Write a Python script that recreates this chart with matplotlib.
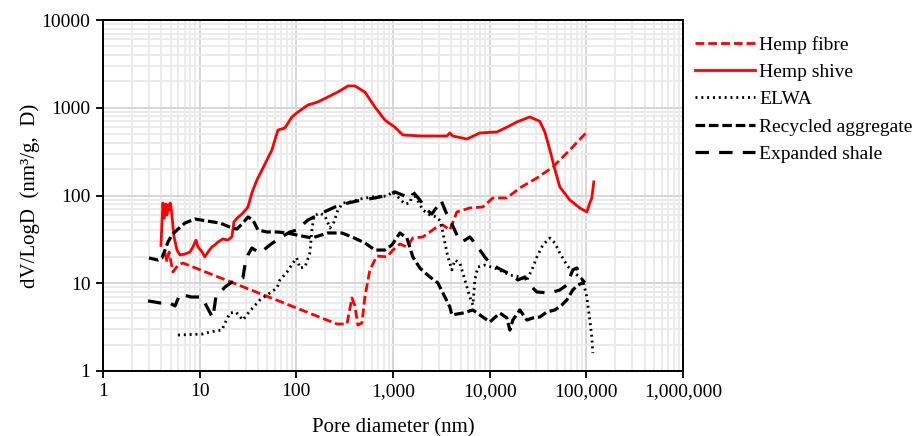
import numpy as np
import matplotlib
matplotlib.use("Agg")
import matplotlib.pyplot as plt
from matplotlib.ticker import FixedLocator, LogLocator, NullFormatter

plt.rcParams['font.family'] = ['Liberation Serif', 'DejaVu Serif']

# pore size distributions, D in nm, dV/logD in mm3/g
hemp_shive_d = [3.98, 4.07, 4.17, 4.3, 4.48, 4.59, 4.7, 4.82, 4.95, 5.05, 5.2, 5.4, 5.82, 6.26,
                7.05, 7.94, 8.53, 9.16, 9.6, 10.6, 11.3, 12.2, 13.4, 14.4, 15.5, 17.4, 19.6, 21.6,
                22.6, 24.3, 28, 31.6, 34.7, 39.1, 44.1, 55.9, 64.5, 76.2, 90, 104, 132, 167, 212,
                269, 342, 404, 512, 650, 824, 1047, 1266, 2037, 3606, 3875, 4160, 5807, 7920,
                11860, 15060, 19100, 26060, 33040, 37240, 41970, 47230, 53200, 67500, 85700,
                101200, 108700, 114000, 119500]
hemp_shive_v = [27, 48, 82, 55, 80, 60, 78, 68, 82, 75, 55, 35, 24, 21,
                21.5, 22.7, 26, 31, 26, 22.7, 20, 22.7, 26, 27.3, 29.5, 32, 31, 34,
                50, 55, 63, 74, 107, 150, 195, 330, 557, 588, 785, 895, 1075, 1164, 1327,
                1512, 1770, 1770, 1510, 1020, 725, 600, 489, 476, 476, 516, 476, 440, 516,
                529, 600, 688, 785, 700, 529, 330, 200, 125, 89, 72,
                65, 82, 94, 143]

hemp_fibre_d = [4.38, 4.59, 4.82, 5.17, 5.29, 5.97, 6.72, 263, 334, 376, 404, 433, 477, 512,
                577, 681, 865, 998, 1178, 1393, 1606, 2037, 2408, 2845, 3281, 3875, 4580,
                6240, 8510, 10790, 15060, 20530, 30760, 45080, 67500, 101200]
hemp_fibre_v = [22.1, 17.5, 22.7, 15.3, 13.4, 16.1, 17.0, 3.43, 3.43, 6.79, 5.5, 3.34, 3.52, 6.97,
                14.2, 20.4, 20, 23.9, 28, 25.9, 32.8, 33.7, 38.4, 43.8, 46.1, 40.4, 64.9,
                72.1, 74, 93.7, 93.7, 122, 158, 211, 330, 529]

elwa_d = [5.97, 10.8, 12.7, 17.0, 18.3, 20.6, 23.7, 28.0, 33.1, 42.0, 53.3, 63.0, 67.6, 80.0,
          92.2, 101, 109, 123, 138, 145, 152, 175, 198, 223, 245, 269, 303, 358, 455, 605,
          865, 998, 1178, 1327, 1496, 1606, 1767, 2037, 2408, 2845, 3129, 3281, 3698, 4066,
          4365, 4920, 5546, 6240, 6700, 7030, 7550, 8910, 11320, 16180, 20530, 24260, 27310,
          30760, 35480, 41970, 47230, 53200, 62810, 72440, 85700, 92000, 101200, 108700,
          114000, 116700]
elwa_v = [2.57, 2.64, 2.78, 2.93, 3.52, 4.58, 4.7, 3.81, 4.83, 6.44, 7.74, 8.83, 10.9, 13.4,
          17.0, 19.4, 14.9, 15.3, 22.1, 40.4, 58.4, 63.2, 58.4, 42.6, 49.9, 68.4, 82.2, 84.3, 91.2, 96.2,
          98.6, 110, 91.2, 80, 82, 107, 91, 68.4, 60, 56.9, 50, 37.4, 19.9, 14.2,
          18.4, 17, 10.9, 6.97, 5.65, 10.9, 15.3, 16.1, 14.9, 12.4, 11.8, 10.9, 14.2,
          19.9, 27.3, 32.8, 28.8, 22.1, 16.1, 13.4, 11.8, 10.9, 6.97, 3.81,
          2.44, 1.60]

recycled_d = [2.99, 3.70, 4.07, 4.38, 4.70, 5.17, 5.82, 7.05, 8.94, 11.9, 16.2, 21.6, 24.3, 28.0,
              31.6, 35.6, 40.1, 49.6, 63.0, 80, 101, 145, 212, 296, 376, 512, 650, 824, 975,
              1178, 1393, 1606, 1898, 2408, 2910, 3443, 3875, 4066, 5284, 6700, 7920, 10050,
              12760, 15060, 16180, 17380, 20530, 24260, 27980, 33040, 39010, 47230, 55830,
              62810, 72440, 81650, 92000]
recycled_v = [19.4, 18.4, 19.4, 23.9, 29.5, 35.5, 40.4, 48.6, 54.0, 51.2, 48.6, 42.6, 41.5, 48.6,
              56.9, 52.6, 40.4, 38.4, 38.4, 37.4, 35.5, 32.8, 37.4, 37.4, 33.7, 28.8, 23.9, 23.9, 27.3,
              37.4, 32.8, 19.9, 14.9, 11.8, 10.1, 6.97, 5.36, 4.35, 4.58, 4.96, 4.35, 3.62,
              4.58, 4.02, 2.93, 3.81, 4.96, 3.81, 4.02, 4.12, 4.70, 4.96, 5.65,
              6.44, 8.38, 9.55, 10.1]

shale_d = [2.92, 3.45, 3.88, 4.70, 5.56, 6.26, 8.13, 10.6, 11.9, 13.7, 14.7, 18.3, 21.6, 28.0,
           29.4, 31.6, 34.7, 42.0, 53.3, 67.6, 85.9, 101, 132, 184, 251, 342, 477, 650, 885,
           1047, 1327, 1606, 1898, 2243, 2524, 2845, 3129, 3525, 4066, 4690, 5164, 6240, 7030,
           8910, 10050, 12160, 16980, 19580, 23130, 24840, 30760, 41970, 53200, 62810, 72440,
           79760, 87760, 96600]
shale_v = [6.28, 6.11, 5.96, 6.11, 5.51, 7.54, 6.97, 6.97, 5.36, 4.02, 6.97, 9.06, 10.3, 11.5,
           16.1, 21.0, 25.2, 22.1, 27.3, 32.8, 38.4, 40.4, 52.6, 63.2, 74, 82.2, 88.9, 93.7, 101,
           110, 98.6, 110, 88.9, 68.4, 61.5, 74, 88.9, 64.9, 47.3, 33.7, 29.5, 33.7, 28.8,
           19.9, 17.0, 14.9, 12.4, 10.9, 11.8, 10.1, 7.95, 7.75, 8.38, 9.55, 14.2,
           14.9, 11.5, 10.1]

x_ticks = [1, 10, 100, 1000, 10000, 100000, 1000000]
x_labels = ['1', '10', '100', '1,000', '10,000', '100,000', '1,000,000']
y_ticks = [1, 10, 100, 1000, 10000]
y_labels = ['1', '10', '100', '1000', '10000']

fig = plt.figure(figsize=(9.18, 4.36), dpi=100)
ax = fig.add_axes([0.1122, 0.1491, 0.6318, 0.8050])

lw = 2.0
ax.plot(hemp_fibre_d, hemp_fibre_v, color='#ff0000', lw=lw, dashes=(3.2, 1.4), label='Hemp fibre')
ax.plot(hemp_shive_d, hemp_shive_v, color='#ff0000', lw=lw, label='Hemp shive')
ax.plot(elwa_d, elwa_v, color='black', lw=lw, dashes=(0.7, 1.4), label='ELWA')
ax.plot(recycled_d, recycled_v, color='black', lw=lw + 0.3, dashes=(3.0, 1.2), label='Recycled aggregate')
ax.plot(shale_d, shale_v, color='black', lw=lw + 0.3, dashes=(4.2, 3.2), label='Expanded shale')

ax.set_xscale('log')
ax.set_yscale('log')
ax.set_xlim(1, 1e6)
ax.set_ylim(1, 1e4)

ax.xaxis.set_major_locator(FixedLocator(x_ticks))
ax.set_xticklabels(x_labels)
ax.yaxis.set_major_locator(FixedLocator(y_ticks))
ax.set_yticklabels(y_labels)
for axis in (ax.xaxis, ax.yaxis):
    axis.set_minor_locator(LogLocator(base=10, subs=np.arange(2, 10), numticks=20))
    axis.set_minor_formatter(NullFormatter())

ax.grid(True, which='major', color='#d6d6d6', lw=1.4)
ax.grid(True, which='minor', color='#ebebeb', lw=1.4)
ax.set_axisbelow(True)

ax.tick_params(which='major', direction='out', length=5, width=1.3, labelsize=14, pad=4)
ax.tick_params(which='minor', length=0)
for s in ax.spines.values():
    s.set_linewidth(1.4)
    s.set_color('black')

ax.set_xlabel('Pore diameter (nm)', fontsize=15, labelpad=13)
ax.set_ylabel('dV/LogD  (nm³/g,  D)', fontsize=15)
ax.yaxis.set_label_coords(-0.108, 0.5)

ax.legend(loc='upper left', bbox_to_anchor=(0.757, 0.918), bbox_transform=fig.transFigure,
          frameon=False, fontsize=14, handlelength=3.1, handletextpad=0.2,
          labelspacing=0.5, borderaxespad=0, borderpad=0)

fig.savefig('out.png', dpi=100)
